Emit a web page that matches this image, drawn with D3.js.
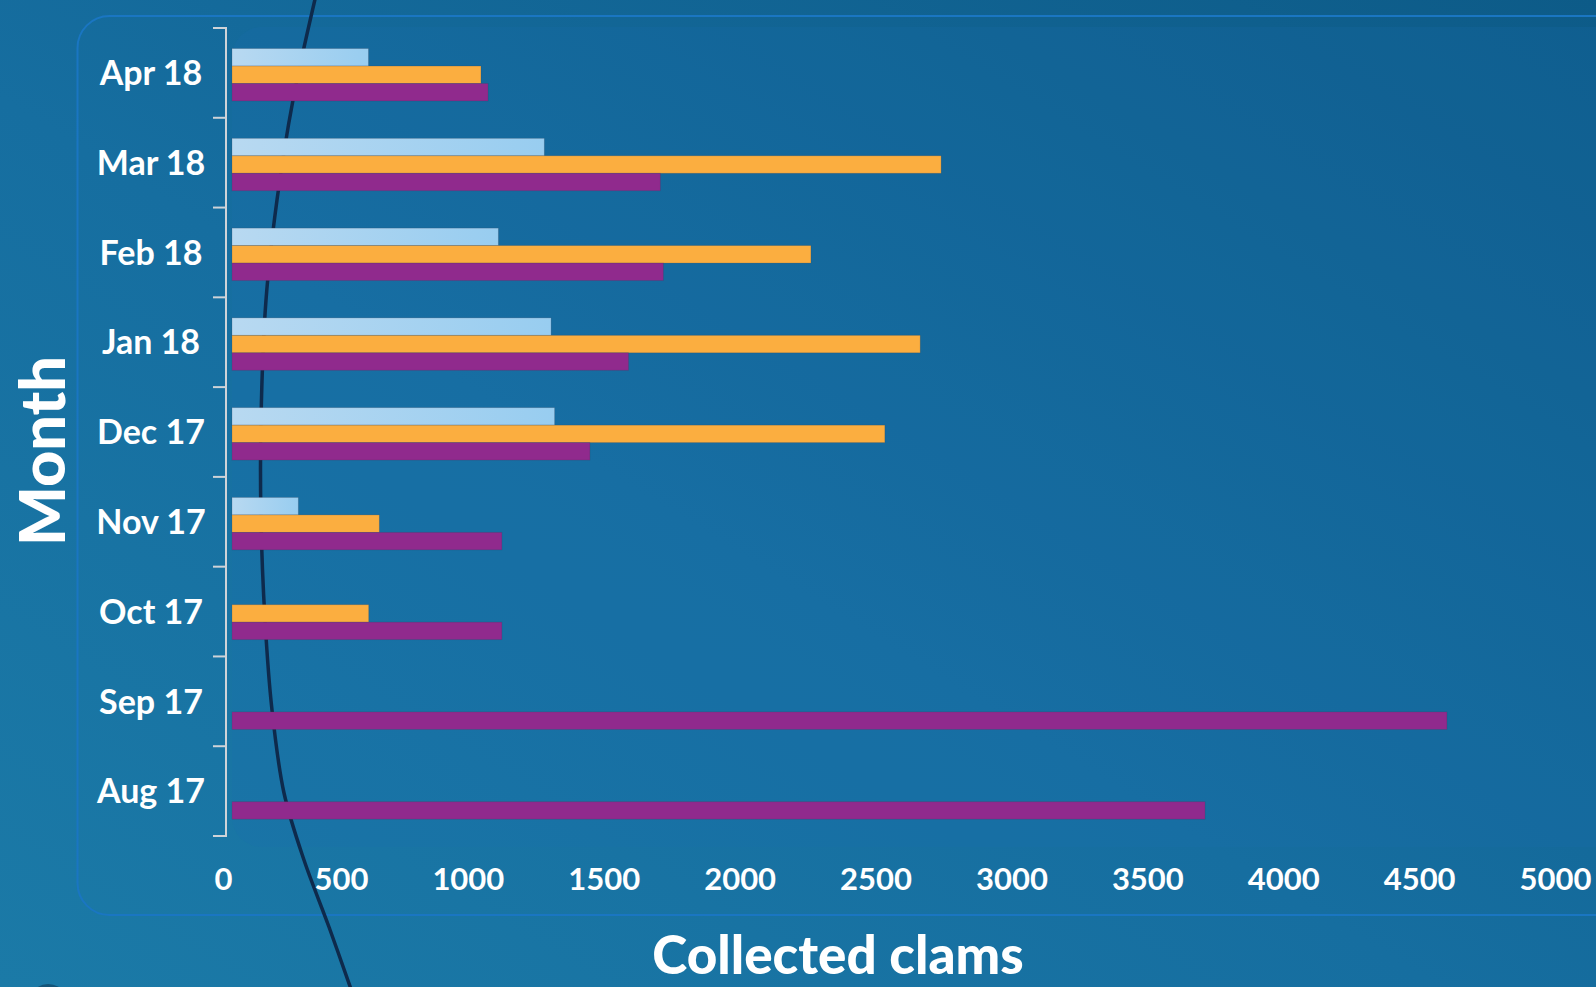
<!DOCTYPE html>
<html>
<head>
<meta charset="utf-8">
<script src="https://cdn.jsdelivr.net/npm/d3@7"></script>
<style>
  html, body { margin: 0; padding: 0; background: #136893; overflow: hidden; }
  svg { display: block; }
</style>
</head>
<body>
<div id="chart"></div>
<script>
// data, top row first
const months = ['Apr 18', 'Mar 18', 'Feb 18', 'Jan 18', 'Dec 17', 'Nov 17', 'Oct 17', 'Sep 17', 'Aug 17'];
const seriesKeys = ['light', 'orange', 'purple'];
const lightValues  = [502, 1149, 980, 1174, 1187, 244, 0, 0, 0];
const orangeValues = [916, 2609, 2130, 2532, 2402, 542, 503, 0, 0];
const purpleValues = [942, 1576, 1587, 1459, 1317, 993, 993, 4470, 3580];
const xTicks = [0, 500, 1000, 1500, 2000, 2500, 3000, 3500, 4000, 4500, 5000];

// decorative curve in the background (not data)
const decoCurve = [[316, -5], [293, 100], [277, 200], [266, 300], [261, 420], [261, 520], [265, 620], [272, 710], [284, 793], [304, 860], [329, 927], [352, 992]];

const W = 1596, H = 987;

const svg = d3.select('#chart').append('svg')
    .attr('width', W)
    .attr('height', H);

const defs = svg.append('defs');

// background gradient
const bg = defs.append('linearGradient')
    .attr('id', 'bg')
    .attr('x1', '0%').attr('y1', '100%')
    .attr('x2', '100%').attr('y2', '0%');
bg.append('stop').attr('offset', '0%').attr('stop-color', '#1b7aa7');
bg.append('stop').attr('offset', '45%').attr('stop-color', '#166ea0');
bg.append('stop').attr('offset', '100%').attr('stop-color', '#0d5b88');

// light bar gradient
const lg = defs.append('linearGradient')
    .attr('id', 'lightBar')
    .attr('x1', '0%').attr('y1', '0%')
    .attr('x2', '100%').attr('y2', '0%');
lg.append('stop').attr('offset', '0%').attr('stop-color', '#b8d9f1');
lg.append('stop').attr('offset', '100%').attr('stop-color', '#98cdf0');

svg.append('rect')
    .attr('width', W)
    .attr('height', H)
    .attr('fill', 'url(#bg)');

// scales
const x = d3.scaleLinear()
    .domain([0, 5000])
    .range([232, 1591]);

const y = d3.scaleBand()
    .domain(months)
    .range([28, 836])
    .padding(0);

const yInner = d3.scaleBand()
    .domain(seriesKeys)
    .range([0, y.bandwidth()])
    .paddingInner(0)
    .paddingOuter(1.07)
    .align(0.55);

const color = {
    light: 'url(#lightBar)',
    orange: '#fbae40',
    purple: '#902a8d'
};

// panel
svg.append('rect')
    .attr('x', 232)
    .attr('y', 27)
    .attr('width', 1500)
    .attr('height', 820)
    .attr('rx', 30)
    .attr('fill', '#1a6fb0')
    .attr('fill-opacity', 0.18);

svg.append('rect')
    .attr('x', 77.5)
    .attr('y', 16)
    .attr('width', 1600)
    .attr('height', 899)
    .attr('rx', 32)
    .attr('fill', 'none')
    .attr('stroke', '#1a76c2')
    .attr('stroke-width', 2);

// decorative curve
svg.append('path')
    .attr('d', d3.line().curve(d3.curveCatmullRom)(decoCurve))
    .attr('fill', 'none')
    .attr('stroke', '#0e2a4c')
    .attr('stroke-width', 3.5);

svg.append('path')
    .attr('d', 'M36,990 Q46,982 58,988')
    .attr('fill', 'none')
    .attr('stroke', '#145478')
    .attr('stroke-width', 3);

// bars
const rows = months.map((m, i) => ({
    month: m,
    values: [
        { key: 'light', value: lightValues[i] },
        { key: 'orange', value: orangeValues[i] },
        { key: 'purple', value: purpleValues[i] }
    ]
}));

const groups = svg.append('g')
    .selectAll('g')
    .data(rows)
    .join('g')
    .attr('transform', d => `translate(0,${y(d.month)})`);

groups.selectAll('rect')
    .data(d => d.values.filter(v => v.value > 0))
    .join('rect')
    .attr('x', x(0))
    .attr('y', d => yInner(d.key))
    .attr('width', d => x(d.value) - x(0))
    .attr('height', yInner.bandwidth())
    .attr('fill', d => color[d.key])
    .attr('stroke', 'rgba(60,60,80,0.25)')
    .attr('stroke-width', 0.8);

// y axis: line with ticks at band edges
const yAxis = svg.append('g');
const edges = months.map(m => y(m)).concat([y.range()[1]]);

yAxis.append('line')
    .attr('x1', 226).attr('x2', 226)
    .attr('y1', edges[0] - 1).attr('y2', edges[edges.length - 1] + 1)
    .attr('stroke', '#cfd3d8')
    .attr('stroke-width', 2);

yAxis.selectAll('.tick')
    .data(edges)
    .join('line')
    .attr('class', 'tick')
    .attr('x1', 213).attr('x2', 227)
    .attr('y1', d => d).attr('y2', d => d)
    .attr('stroke', '#cfd3d8')
    .attr('stroke-width', 2);

yAxis.selectAll('.label')
    .data(months)
    .join('text')
    .attr('class', 'label')
    .attr('x', 151)
    .attr('y', d => y(d) + y.bandwidth() / 2)
    .attr('dy', '0.36em')
    .attr('text-anchor', 'middle')
    .style('font-family', 'Lato, "Open Sans", sans-serif')
    .style('font-weight', 700)
    .style('font-size', '34px')
    .style('fill', '#ffffff')
    .text(d => d);

// x axis
const xAxis = svg.append('g')
    .attr('transform', 'translate(0,868)')
    .call(d3.axisBottom(x).tickValues(xTicks).tickSize(0).tickFormat(d3.format('d')));

xAxis.select('.domain').remove();
xAxis.selectAll('text')
    .attr('text-anchor', 'end')
    .attr('dy', null)
    .attr('y', 22)
    .attr('x', 0)
    .style('font-family', 'Lato, "Open Sans", sans-serif')
    .style('font-weight', 700)
    .style('font-size', '31px')
    .style('fill', '#ffffff');

// axis titles
svg.append('text')
    .attr('transform', 'translate(65,451) rotate(-90)')
    .attr('text-anchor', 'middle')
    .style('font-family', 'Lato, "Open Sans", sans-serif')
    .style('font-weight', 900)
    .style('font-size', '63px')
    .style('fill', '#ffffff')
    .text('Month');

svg.append('text')
    .attr('x', 838)
    .attr('y', 974)
    .attr('text-anchor', 'middle')
    .style('font-family', 'Lato, "Open Sans", sans-serif')
    .style('font-weight', 900)
    .style('font-size', '53px')
    .style('fill', '#ffffff')
    .text('Collected clams');
</script>
</body>
</html>
